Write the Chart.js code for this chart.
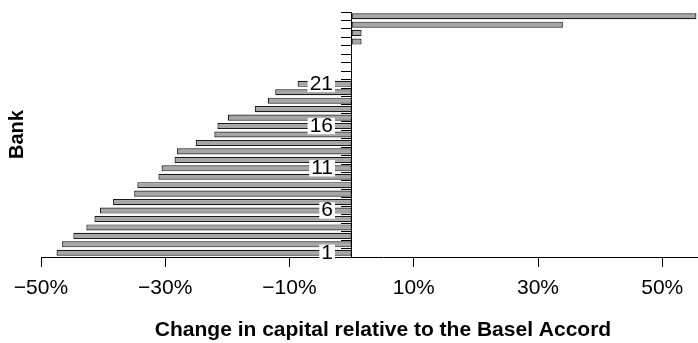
<!DOCTYPE html>
<html>
<head>
<meta charset="utf-8">
<title>Change in capital by bank</title>
<script src="https://cdn.jsdelivr.net/npm/chart.js@4.4.1/dist/chart.umd.min.js"></script>
<style>
  html, body { margin: 0; padding: 0; background: #fff; overflow: hidden; }
  /* plot frame runs past the right edge of the page, so the biggest bar is cut off */
  #wrap { position: relative; width: 725px; height: 343px; }
</style>
</head>
<body>
<div id="wrap"><canvas id="capital"></canvas></div>
<script>
// banks, bottom to top
const banks = ['1', '2', '3', '4', '5', '6', '7', '8', '9', '10',
  '11', '12', '13', '14', '15', '16', '17', '18', '19', '20',
  '21', '22', '23', '24', '25', '26', '27', '28', '29'];

// change in required capital, % relative to the Basel Accord
const capitalChange = [-47.5, -46.6, -44.8, -42.7, -41.4, -40.5, -38.4, -35.0, -34.5, -31.1,
  -30.6, -28.5, -28.1, -25.1, -22.1, -21.6, -19.9, -15.6, -13.5, -12.3,
  -8.7, 0, 0, 0, 0, 1.6, 1.6, 34.0, 55.5];

const xTickValues = [-50, -30, -10, 10, 30, 50];
const labelledBanks = ['1', '6', '11', '16', '21'];

Chart.defaults.font.family = '"Liberation Sans", Arial, Helvetica, sans-serif';
Chart.defaults.color = '#000';

const ctx = document.getElementById('capital');
// eslint-disable-next-line no-unused-vars
const chart = new Chart(ctx, {
  type: 'bar',
  data: {
    labels: banks,
    datasets: [{
      data: capitalChange,
      backgroundColor: '#a6a6a6',
      borderColor: '#1a1a1a',
      borderWidth: 1.2,
      borderSkipped: false,
      barPercentage: 0.72,
      categoryPercentage: 1,
    }],
  },
  options: {
    indexAxis: 'y',
    responsive: true,
    maintainAspectRatio: false,
    animation: false,
    layout: {
      padding: { top: 12, left: 0, right: 0, bottom: 0 },
    },
    scales: {
      x: {
        type: 'linear',
        min: -50,
        max: 60.1,
        afterBuildTicks: (scale) => {
          scale.ticks = xTickValues.map(v => ({ value: v }));
        },
        grid: { drawOnChartArea: false, color: '#000', tickLength: 10 },
        border: { color: '#000', width: 1 },
        ticks: {
          color: '#000',
          font: { size: 21 },
          padding: 9,
          maxRotation: 0,
          autoSkip: false,
          callback: (v) => (v < 0 ? '\u2212' + Math.abs(v) : v) + '%',
        },
        title: {
          display: true,
          text: 'Change in capital relative to the Basel Accord',
          color: '#000',
          font: { size: 21, weight: 'bold' },
          padding: { top: 7.6, bottom: 0 },
        },
      },
      // axis line at zero with a tick between every bank
      y: {
        type: 'category',
        position: { x: 0 },
        reverse: true,
        offset: true,
        grid: { drawOnChartArea: false, offset: true, color: '#000', tickLength: 10, z: 1 },
        border: { color: '#000', width: 1, z: 1 },
        ticks: { display: false, autoSkip: false },
      },
      // every fifth bank number, boxed in white over the bars
      yBanks: {
        axis: 'y',
        type: 'category',
        position: { x: -3 },
        reverse: true,
        offset: true,
        grid: { display: false, drawTicks: false },
        border: { display: false },
        ticks: {
          z: 2,
          autoSkip: false,
          color: '#000',
          font: { size: 21, lineHeight: 0.78 },
          padding: 0,
          callback: function (v) {
            const label = this.getLabelForValue(v);
            return labelledBanks.includes(label) ? label : '';
          },
          showLabelBackdrop: (c) => !!(c.tick && c.tick.label),
          backdropColor: '#fff',
          backdropPadding: { top: 0, bottom: 0, left: 2, right: 2 },
        },
      },
      // left-hand axis that only carries the "Bank" title
      yTitle: {
        axis: 'y',
        type: 'category',
        position: 'left',
        grid: { display: false, drawTicks: false },
        border: { display: false },
        ticks: { display: false },
        title: {
          display: true,
          text: 'Bank',
          color: '#000',
          font: { size: 20, weight: 'bold' },
          padding: { top: 5, bottom: 12 },
        },
      },
    },
    plugins: {
      legend: { display: false },
      tooltip: { enabled: false },
    },
  },
});
</script>
</body>
</html>
